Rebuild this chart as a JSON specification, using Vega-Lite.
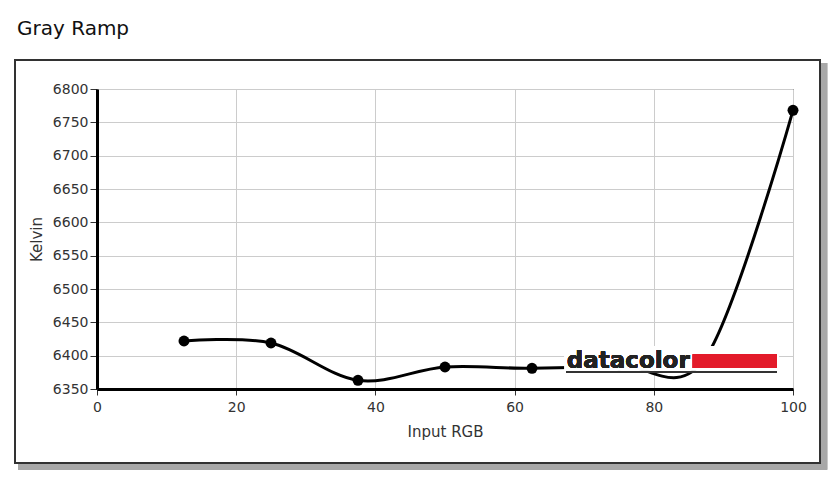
{
  "$schema": "https://vega.github.io/schema/vega-lite/v6.json",
  "width": 696,
  "height": 300,
  "autosize": "none",
  "padding": {"left": 97, "top": 89, "right": 42, "bottom": 91},
  "background": "white",
  "title": {"text": "Gray Ramp", "anchor": "start", "frame": "group", "dx": -80, "dy": -16, "fontSize": 20, "font": "DejaVu Sans", "fontWeight": "normal", "color": "#111"},
  "config": {
    "view": {"stroke": "#000", "strokeWidth": 1},
    "axis": {"labelFont": "DejaVu Sans", "labelFontSize": 14, "labelColor": "#333", "titleFont": "DejaVu Sans", "titleFontSize": 15, "titleFontWeight": "normal", "titleColor": "#333", "gridColor": "#cccccc", "gridWidth": 1, "domainColor": "#000", "domainWidth": 3, "tickColor": "#333"}
  },
  "data": {"values": [
    {"rgb": 12.5, "kelvin": 6422},
    {"rgb": 25, "kelvin": 6419},
    {"rgb": 37.5, "kelvin": 6363},
    {"rgb": 50, "kelvin": 6383},
    {"rgb": 62.5, "kelvin": 6381},
    {"rgb": 75, "kelvin": 6386},
    {"rgb": 87.5, "kelvin": 6398},
    {"rgb": 100, "kelvin": 6768}
  ]},
  "encoding": {
    "x": {"field": "rgb", "type": "quantitative", "title": "Input RGB",
      "scale": {"domain": [0, 100], "nice": false, "zero": false},
      "axis": {"values": [0, 20, 40, 60, 80, 100], "tickSize": 6, "labelPadding": 5, "titlePadding": 10, "labelFlush": false}},
    "y": {"field": "kelvin", "type": "quantitative", "title": "Kelvin",
      "scale": {"domain": [6350, 6800], "nice": false, "zero": false},
      "axis": {"values": [6350, 6400, 6450, 6500, 6550, 6600, 6650, 6700, 6750, 6800], "format": "d", "tickSize": 7, "labelPadding": 2, "titlePadding": 8, "labelFlush": false}}
  },
  "layer": [
    {"mark": {"type": "rect", "fill": "#a8a8a8"},
     "encoding": {"x": {"datum": -11.35}, "x2": {"datum": 104.74}, "y": {"datum": 6239}, "y2": {"datum": 6229}}},
    {"mark": {"type": "rect", "fill": "#a8a8a8"},
     "encoding": {"x": {"datum": 103.88}, "x2": {"datum": 104.9}, "y": {"datum": 6839}, "y2": {"datum": 6229}}},
    {"mark": {"type": "rect", "fill": null, "fillOpacity": 0, "stroke": "#333", "strokeWidth": 1.5},
     "encoding": {"x": {"datum": -11.78}, "x2": {"datum": 103.88}, "y": {"datum": 6843.5}, "y2": {"datum": 6239}}},
    {"mark": {"type": "line", "interpolate": "cardinal", "color": "#000", "strokeWidth": 3}},
    {"mark": {"type": "point", "filled": true, "color": "#000", "size": 120, "opacity": 1}},
    {"mark": {"type": "rect", "fill": "white"},
     "encoding": {"x": {"datum": 67.2}, "x2": {"datum": 97.9}, "y": {"datum": 6414}, "y2": {"datum": 6378}}},
    {"mark": {"type": "rect", "fill": "#e31b2a"},
     "encoding": {"x": {"datum": 85.6}, "x2": {"datum": 97.7}, "y": {"datum": 6402}, "y2": {"datum": 6381.5}}},
    {"mark": {"type": "rule", "color": "#333", "strokeWidth": 2},
     "encoding": {"x": {"datum": 67.4}, "x2": {"datum": 97.7}, "y": {"datum": 6375.5}}},
    {"mark": {"type": "text", "text": "datacolor", "font": "DejaVu Sans", "fontWeight": "bold", "fontSize": 23, "color": "#222", "align": "left", "baseline": "alphabetic"},
     "encoding": {"x": {"datum": 67.5}, "y": {"datum": 6381.5}}}
  ]
}
